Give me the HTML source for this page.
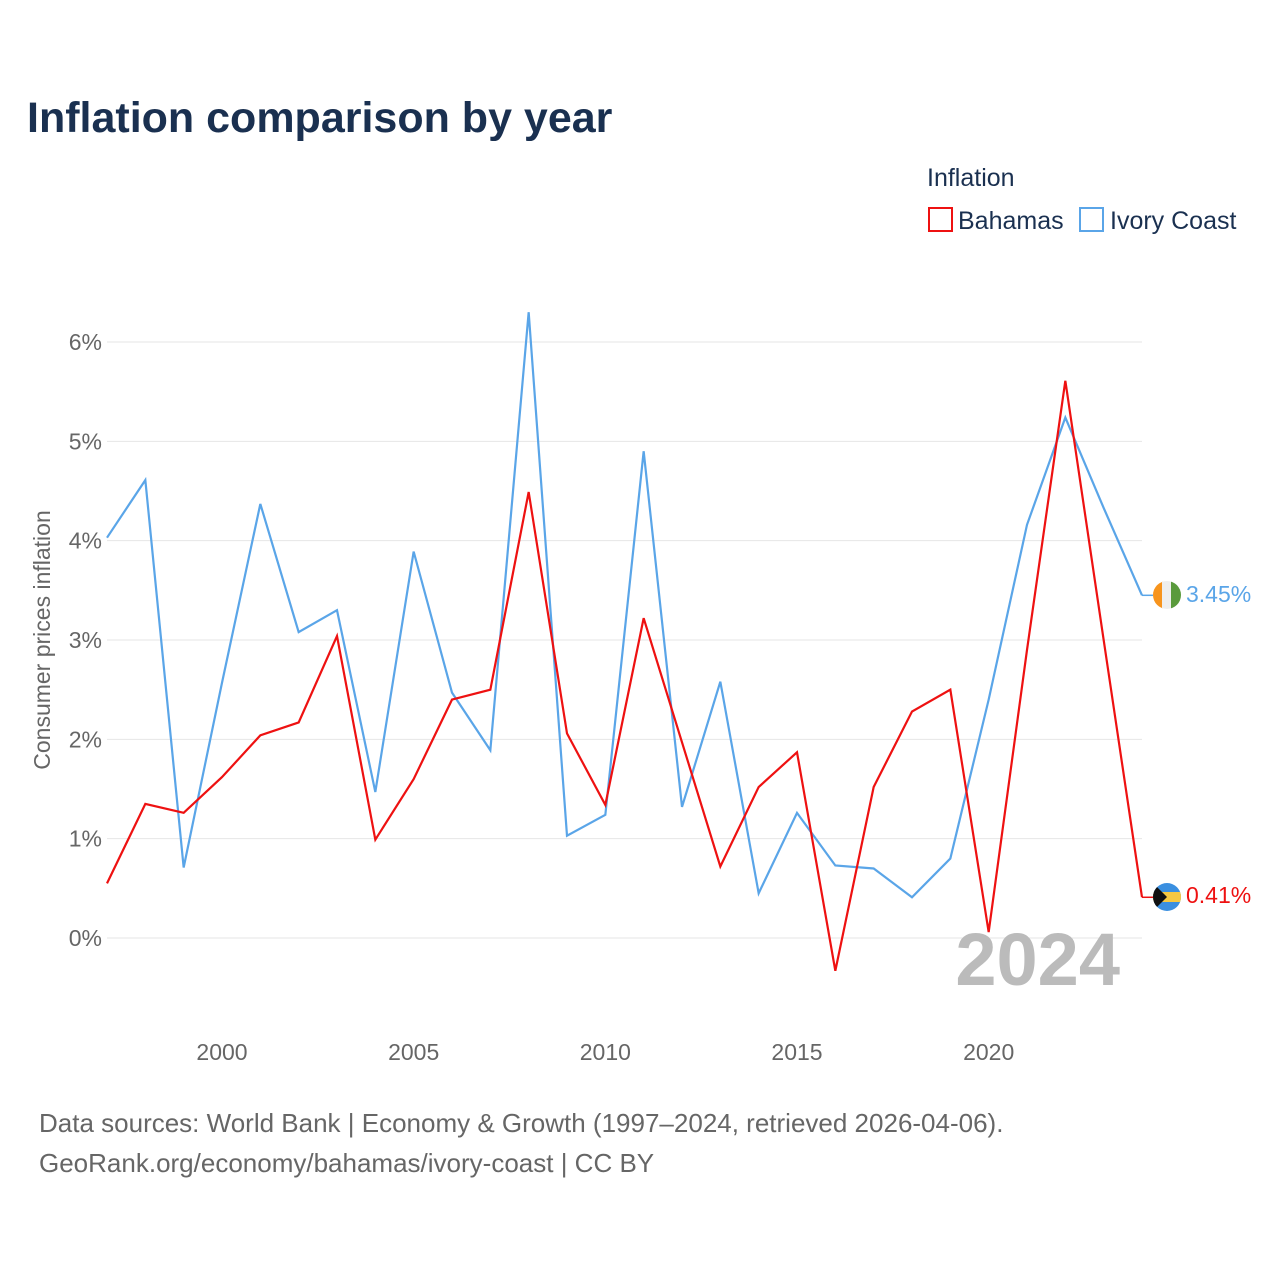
<!DOCTYPE html>
<html><head><meta charset="utf-8"><style>
body{margin:0;background:#fff;font-family:"Liberation Sans",sans-serif;}
svg text{font-family:"Liberation Sans",sans-serif;}
</style></head><body>
<svg id="chart" width="1280" height="1280" xmlns="http://www.w3.org/2000/svg">
<text x="27" y="132" font-size="43" font-weight="bold" fill="#1a3050">Inflation comparison by year</text>
<text x="927" y="186" font-size="25" fill="#1a3050">Inflation</text>
<g><rect x="929" y="208" width="23" height="23" fill="none" stroke="#ee1111" stroke-width="2"/><text x="958" y="229" font-size="25" fill="#1a3050">Bahamas</text></g>
<g><rect x="1080" y="208" width="23" height="23" fill="none" stroke="#5aa5e8" stroke-width="2"/><text x="1110" y="229" font-size="25" fill="#1a3050">Ivory Coast</text></g>
<text transform="translate(50,640) rotate(-90)" text-anchor="middle" font-size="23" fill="#666">Consumer prices inflation</text>
<g id="grid"></g><g id="xt"></g>
<text x="1120" y="985" text-anchor="end" font-size="74" font-weight="bold" fill="#bbb">2024</text>
<g id="lines"></g>
<g><clipPath id="c1"><circle cx="1167" cy="595" r="14"/></clipPath><g clip-path="url(#c1)"><rect x="1153" y="581" width="10" height="28" fill="#f7941d"/><rect x="1162" y="581" width="10" height="28" fill="#eee"/><rect x="1171" y="581" width="10" height="28" fill="#5a9a3c"/></g></g>
<g><clipPath id="c2"><circle cx="1167" cy="897" r="14"/></clipPath><g clip-path="url(#c2)"><rect x="1153" y="883" width="28" height="28" fill="#3a8fe0"/><rect x="1153" y="892" width="28" height="10" fill="#f5c842"/><polygon points="1153,883 1167,897 1153,911" fill="#111"/></g></g>
<text x="1186" y="602" font-size="23" fill="#5aa5e8">3.45%</text>
<text x="1186" y="903" font-size="23" fill="#ee1111">0.41%</text>
<text x="39" y="1132" font-size="26" fill="#666">Data sources: World Bank | Economy &amp; Growth (1997–2024, retrieved 2026-04-06).</text>
<text x="39" y="1172" font-size="26" fill="#666">GeoRank.org/economy/bahamas/ivory-coast | CC BY</text>
</svg>
<script>
const years=[1997,1998,1999,2000,2001,2002,2003,2004,2005,2006,2007,2008,2009,2010,2011,2012,2013,2014,2015,2016,2017,2018,2019,2020,2021,2022,2023,2024];
const bahamas=[0.55,1.35,1.26,1.62,2.04,2.17,3.04,0.99,1.60,2.40,2.50,4.49,2.06,1.34,3.22,1.97,0.72,1.52,1.87,-0.33,1.52,2.28,2.50,0.06,2.90,5.61,3.00,0.41];
const ivoryCoast=[4.03,4.61,0.71,2.57,4.37,3.08,3.30,1.47,3.89,2.47,1.89,6.30,1.03,1.24,4.90,1.32,2.58,0.45,1.26,0.73,0.70,0.41,0.80,2.40,4.16,5.24,4.33,3.45];
const yTicks=[0,1,2,3,4,5,6];
const xTicks=[2000,2005,2010,2015,2020];
const NS="http://www.w3.org/2000/svg";
const xs=y=>107+(y-1997)*(1142-107)/27;
const ys=v=>938-v*99.33;
const grid=document.getElementById('grid'),xt=document.getElementById('xt'),lines=document.getElementById('lines');
yTicks.forEach(t=>{
 const l=document.createElementNS(NS,'line');
 
 
 l.setAttribute('x1',107);l.setAttribute('x2',1142);l.setAttribute('y1',ys(t));l.setAttribute('y2',ys(t));l.setAttribute('stroke','#e6e6e6');
 grid.appendChild(l);
 const tx=document.createElementNS(NS,'text');
 
 
 tx.setAttribute('x',102);tx.setAttribute('y',ys(t)+8);tx.setAttribute('text-anchor','end');tx.setAttribute('font-size','23');tx.setAttribute('fill','#666');
 tx.textContent=t+'%';grid.appendChild(tx);
});
xTicks.forEach(t=>{
 const tx=document.createElementNS(NS,'text');
 
 
 tx.setAttribute('x',xs(t));tx.setAttribute('y',1060);tx.setAttribute('text-anchor','middle');tx.setAttribute('font-size','23');tx.setAttribute('fill','#666');
 tx.textContent=t;xt.appendChild(tx);
});
function drawLine(vals,color,name){
 const p=document.createElementNS(NS,'polyline');
 
 
 p.setAttribute('points',vals.map((v,i)=>xs(years[i])+','+ys(v)).join(' '));
 p.setAttribute('fill','none');p.setAttribute('stroke',color);p.setAttribute('stroke-width','2.2');p.setAttribute('stroke-linejoin','miter');
 lines.appendChild(p);
 const last=vals[vals.length-1];
 const c=document.createElementNS(NS,'line');
 
 
 c.setAttribute('x1',xs(years[years.length-1]));c.setAttribute('x2',1153);c.setAttribute('y1',ys(last));c.setAttribute('y2',ys(last));c.setAttribute('stroke',color);c.setAttribute('stroke-width','1.5');
 lines.appendChild(c);
}
drawLine(ivoryCoast,'#5aa5e8','ivory-coast-line');
drawLine(bahamas,'#ee1111','bahamas-line');
</script>
</body></html>
